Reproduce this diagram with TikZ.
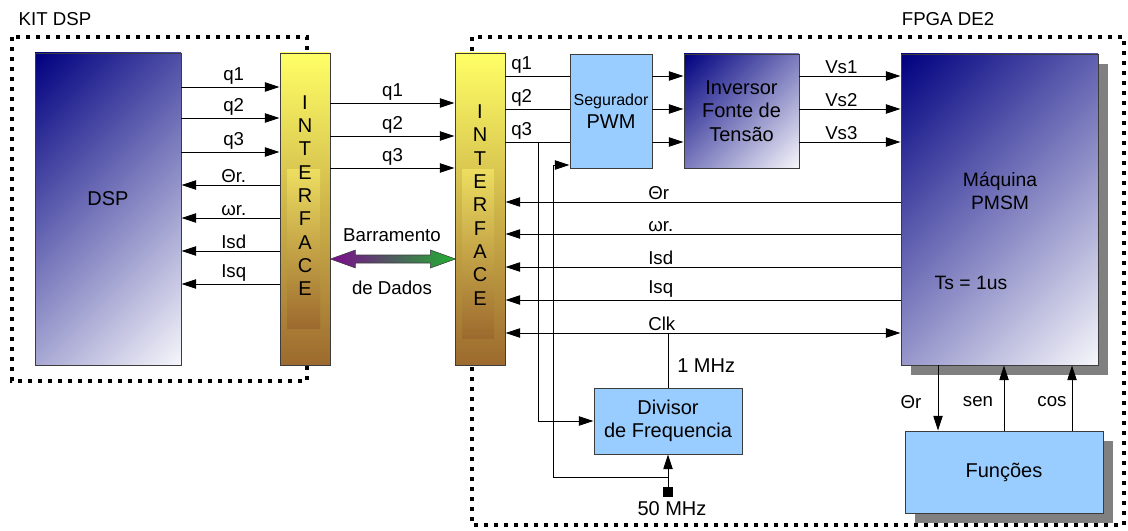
\documentclass[tikz,border=0pt]{standalone}
\usepackage{fontspec}
\setmainfont{Liberation Sans}
\usetikzlibrary{arrows.meta}
\definecolor{Navy}{HTML}{000080}
\definecolor{Pale}{HTML}{F6F6FB}
\definecolor{IfTop}{HTML}{FFFF66}
\definecolor{IfMid}{HTML}{E6D25E}
\definecolor{IfBot}{HTML}{9C6A2E}
\definecolor{SkyBlue}{HTML}{99CCFF}
\definecolor{Shadow}{HTML}{808080}
\definecolor{Edge}{HTML}{3C3C3C}
\definecolor{BusPurple}{HTML}{7B0A8E}
\definecolor{BusMid}{HTML}{3C4A5C}
\definecolor{BusGreen}{HTML}{22B030}
\pgfdeclareverticalshading{diagfade}{100bp}{color(0bp)=(Pale); color(14.6bp)=(Pale);
  color(85.4bp)=(Navy); color(100bp)=(Navy)}
\newcommand\lblfont{\fontsize{14}{16}\selectfont}
\newcommand\boxfont{\fontsize{15}{17.5}\selectfont}

\begin{document}
\begin{tikzpicture}[x=0.75pt,y=-0.75pt,
    blk/.style={draw=Edge,line width=0.7pt,inner sep=0pt,align=center,font=\boxfont},
    deep/.style={blk,shade,shading=diagfade,shading angle=45},
    iface/.style={blk,top color=IfTop,middle color=IfMid,bottom color=IfBot},
    sky/.style={blk,fill=SkyBlue},
    shadowbox/.style={fill=Shadow,inner sep=0pt},
    letters/.style={align=center,font=\fontsize{15}{17.5}\selectfont,inner sep=0pt},
    txt/.style={align=center,font=\boxfont,inner sep=0pt},
    lbl/.style={font=\lblfont,inner sep=1.5pt},
    wire/.style={line width=0.7pt},
    sig/.style={wire,-{Triangle[length=11pt,width=7pt]}},
    bisig/.style={wire,{Triangle[length=11pt,width=7pt]}-{Triangle[length=11pt,width=7pt]}},
    zone/.style={line width=2.5pt,dash pattern=on 3pt off 4.5pt}
  ]
  \useasboundingbox (0,0) rectangle (1128,531);
  % dotted zones
  \draw[zone] (12,37) rectangle (307,381);
  \draw[zone] (472,37) rectangle (1124,525);
  \node[lbl] (kit) at (55,19) {KIT DSP};
  \node[lbl] (fpga) at (948,19) {FPGA DE2};

  % blocks
  \node[deep,minimum width=109.5pt,minimum height=234pt] (dsp) at (108,209) {};
  \node[txt] (dsptxt) at (108,199) {DSP};
  \node[iface,minimum width=37.5pt,minimum height=234pt] (ifa) at (305,209) {};
  \node[iface,minimum width=37.5pt,minimum height=234pt] (ifb) at (480,209) {};
  \fill[top color=IfMid!75!IfTop,bottom color=IfBot] (287,170) rectangle (320,328);
  \fill[top color=IfMid!75!IfTop,bottom color=IfBot] (462,170) rectangle (494,338);
  \node[letters] (ifatxt) at (305,195.5) {I\\N\\T\\E\\R\\F\\A\\C\\E};
  \node[letters] (ifbtxt) at (480,205) {I\\N\\T\\E\\R\\F\\A\\C\\E};

  \node[sky,minimum width=61.5pt,minimum height=85.5pt] (seg) at (611,111)
    {{\fontsize{12}{14}\selectfont Segurador}\\PWM};
  \node[deep,minimum width=86.25pt,minimum height=85.5pt] (inv) at (741.5,111)
    {Inversor\\Fonte de\\Tensão};
  \node[shadowbox,minimum width=147.75pt,minimum height=233.25pt] (pmsmsh) at (1009.5,219.5) {};
  \node[deep,minimum width=147.75pt,minimum height=233.25pt] (pmsm) at (999.5,209.5) {};
  \node[txt,font=\fontsize{14.5}{17}\selectfont] (pmsmtxt) at (1000,191) {Máquina\\PMSM};
  \node[txt,font=\fontsize{14.5}{17}\selectfont] (ts) at (971,283) {Ts = 1us};
  \node[sky,minimum width=111pt,minimum height=49.5pt] (div) at (668,421) {Divisor\\de Frequencia};
  \node[shadowbox,minimum width=148.5pt,minimum height=61.5pt] (funsh) at (1014,482) {};
  \node[sky,minimum width=148.5pt,minimum height=61.5pt] (fun) at (1004,472) {Funções};

  % DSP <-> interface
  \foreach \y/\t [count=\i] in {87/q1,118/q2,152/q3}{
    \draw[sig] (dsp.east |- 0,\y) -- (ifa.west |- 0,\y);
    \node[lbl,anchor=south west] (dq\i) at (221,\y) {\t};
  }
  \foreach \y/\t [count=\i] in {185/Θr.,218/ωr.,251/Isd,284/Isq}{
    \draw[sig] (ifa.west |- 0,\y) -- (dsp.east |- 0,\y);
    \node[lbl,anchor=south west] (dr\i) at (219,\y) {\t};
  }

  % interface <-> interface
  \foreach \y/\t [count=\i] in {103/q1,136/q2,168/q3}
    \draw[sig] (ifa.east |- 0,\y) -- (ifb.west |- 0,\y) node[lbl,midway,above] (mq\i) {\t};
  \shadedraw[left color=BusPurple,middle color=BusMid,right color=BusGreen,draw=Edge,line width=0.4pt]
    (ifa.east |- 0,259) -- ++(25,-9) -- ++(0,5) -- ++(75,0) -- ++(0,-5) -- ++(25,9)
    -- ++(-25,9) -- ++(0,-5) -- ++(-75,0) -- ++(0,5) -- cycle;
  \node[lbl] (busa) at (392,235) {Barramento};
  \node[lbl] (busb) at (392,288) {de Dados};

  % FPGA side
  \foreach \y [count=\i] in {76,109,142}{
    \draw[wire] (ifb.east |- 0,\y) -- (seg.west |- 0,\y);
    \node[lbl,anchor=south west] (fq\i) at (509,\y) {q\i};
    \draw[sig] (seg.east |- 0,\y) -- (inv.west |- 0,\y);
    \draw[sig] (inv.east |- 0,\y) -- (pmsm.west |- 0,\y);
    \node[lbl,anchor=south west] (vs\i) at (823,\y) {Vs\i};
  }
  \foreach \y/\t [count=\i] in {202/Θr,234/ωr.,267/Isd,300/Isq}{
    \draw[sig] (pmsm.west |- 0,\y) -- (ifb.east |- 0,\y);
    \node[lbl,anchor=south west] (fr\i) at (646,\y) {\t};
  }
  \draw[bisig] (ifb.east |- 0,333) -- (pmsm.west |- 0,333);
  \node[lbl,anchor=south west] (clk) at (646,333) {Clk};

  % clock divider
  \coordinate (tap1) at (668,333);
  \draw[wire] (tap1) -- (div.north);
  \node[lbl,font=\boxfont,anchor=west] (mhz1) at (675,366) {1 MHz};
  \coordinate (tapq) at (538,142);
  \draw[sig] (tapq) |- (div.west);
  \node[fill,minimum size=7.5pt,inner sep=0pt] (src) at (668,492) {};
  \draw[sig] (src) -- (div.south);
  \node[lbl,font=\boxfont] (mhz50) at (672,509) {50 MHz};
  \coordinate (ckj) at (668,477);
  \coordinate (ckc) at (553,165);
  \draw[sig] (ckj) -| (ckc) -- (seg.west |- ckc);

  % machine <-> functions
  \draw[sig] (pmsm.south -| 938,0) -- (fun.north -| 938,0);
  \draw[sig] (fun.north -| 1004,0) -- (pmsm.south -| 1004,0);
  \draw[sig] (fun.north -| 1072,0) -- (pmsm.south -| 1072,0);
  \node[lbl] (fth) at (911,402) {Θr};
  \node[lbl] (fsen) at (978,402) {sen};
  \node[lbl] (fcos) at (1052,402) {cos};
\end{tikzpicture}
\end{document}
